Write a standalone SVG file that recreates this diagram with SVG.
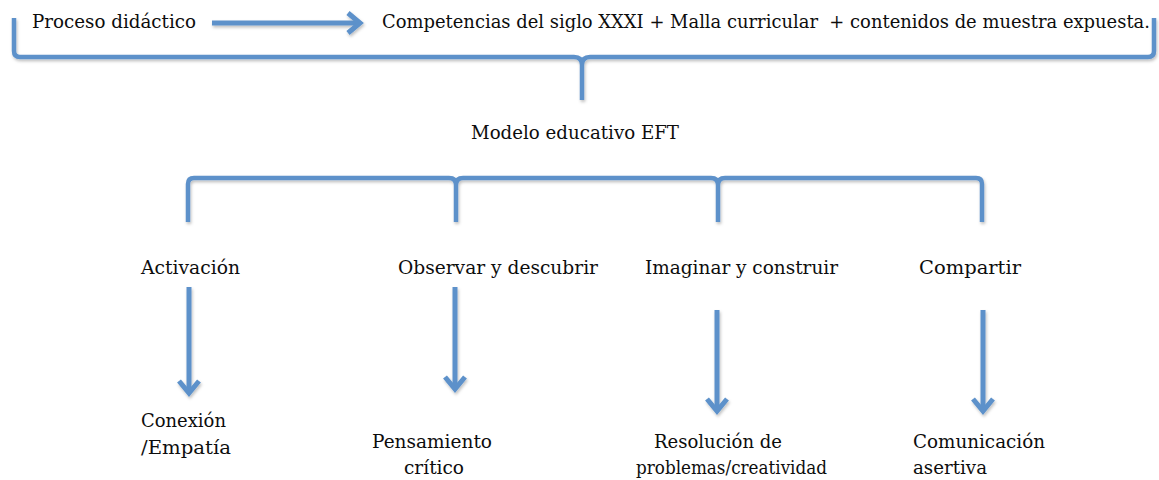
<svg xmlns="http://www.w3.org/2000/svg" width="1159" height="480" viewBox="0 0 1159 480">
<style>
  text { font-family: "DejaVu Serif", "Liberation Serif", serif; font-size: 18px; fill: #0d0d0d; white-space: pre; }
  .ln { fill: none; stroke: #5d91ca; stroke-width: 4.5; stroke-linecap: butt; stroke-linejoin: round; }
  .ar { fill: none; stroke: #5d91ca; stroke-width: 5; }
</style>
<defs>
  <filter id="sh" x="-5%" y="-20%" width="110%" height="160%">
    <feDropShadow dx="1" dy="2" stdDeviation="1.5" flood-color="#000" flood-opacity="0.25"/>
  </filter>
  <marker id="ah" markerUnits="userSpaceOnUse" markerWidth="40" markerHeight="40" refX="18" refY="11" orient="auto" overflow="visible">
    <path d="M6,1 L18,11 L6,21" fill="none" stroke="#5d91ca" stroke-width="5" stroke-linejoin="miter"/>
  </marker>
</defs>
<rect width="1159" height="480" fill="#fff"/>

<g id="connectors" filter="url(#sh)">
  <path class="ln" d="M14,18 V51 Q14,57 20,57 H574 Q582,57 582,65 V100 M582,65 Q582,57 590,57 H1148 Q1154,57 1154,51 V18"/>
  <path class="ln" d="M188,222 V184 Q188,178 194,178 H449 Q456,178 456,185 V222 M456,185 Q456,178 463,178 H711 Q718,178 718,185 V222 M718,185 Q718,178 725,178 H976 Q982,178 982,184 V222"/>
  <line class="ar" x1="212" y1="23" x2="360" y2="23" marker-end="url(#ah)"/>
  <line class="ar" x1="189" y1="287" x2="189" y2="393" marker-end="url(#ah)"/>
  <line class="ar" x1="455" y1="287" x2="455" y2="389" marker-end="url(#ah)"/>
  <line class="ar" x1="717" y1="310" x2="717" y2="411" marker-end="url(#ah)"/>
  <line class="ar" x1="983" y1="310" x2="983" y2="411" marker-end="url(#ah)"/>
</g>

<g id="proceso"><text x="32" y="28" textLength="164" lengthAdjust="spacingAndGlyphs">Proceso didáctico</text></g>
<g id="competencias"><text x="382" y="28" textLength="768" lengthAdjust="spacingAndGlyphs">Competencias del siglo XXXI + Malla curricular  + contenidos de muestra expuesta.</text></g>
<g id="modelo"><text x="471" y="139" textLength="208" lengthAdjust="spacingAndGlyphs">Modelo educativo EFT</text></g>

<g id="activacion"><text x="141" y="274" textLength="99" lengthAdjust="spacingAndGlyphs">Activación</text></g>
<g id="observar"><text x="398" y="274" textLength="200" lengthAdjust="spacingAndGlyphs">Observar y descubrir</text></g>
<g id="imaginar"><text x="645" y="274" textLength="193" lengthAdjust="spacingAndGlyphs">Imaginar y construir</text></g>
<g id="compartir"><text x="919" y="274" textLength="102" lengthAdjust="spacingAndGlyphs">Compartir</text></g>

<g id="conexion">
  <text x="141" y="427" textLength="85" lengthAdjust="spacingAndGlyphs">Conexión</text>
  <text x="141" y="454" textLength="90" lengthAdjust="spacingAndGlyphs">/Empatía</text>
</g>
<g id="pensamiento">
  <text x="372" y="448" textLength="120" lengthAdjust="spacingAndGlyphs">Pensamiento</text>
  <text x="404" y="474" textLength="60" lengthAdjust="spacingAndGlyphs">crítico</text>
</g>
<g id="resolucion">
  <text x="654" y="448" textLength="128" lengthAdjust="spacingAndGlyphs">Resolución de</text>
  <text x="636" y="474" textLength="191" lengthAdjust="spacingAndGlyphs">problemas/creatividad</text>
</g>
<g id="comunicacion">
  <text x="913" y="448" textLength="132" lengthAdjust="spacingAndGlyphs">Comunicación</text>
  <text x="913" y="474" textLength="74" lengthAdjust="spacingAndGlyphs">asertiva</text>
</g>
</svg>
